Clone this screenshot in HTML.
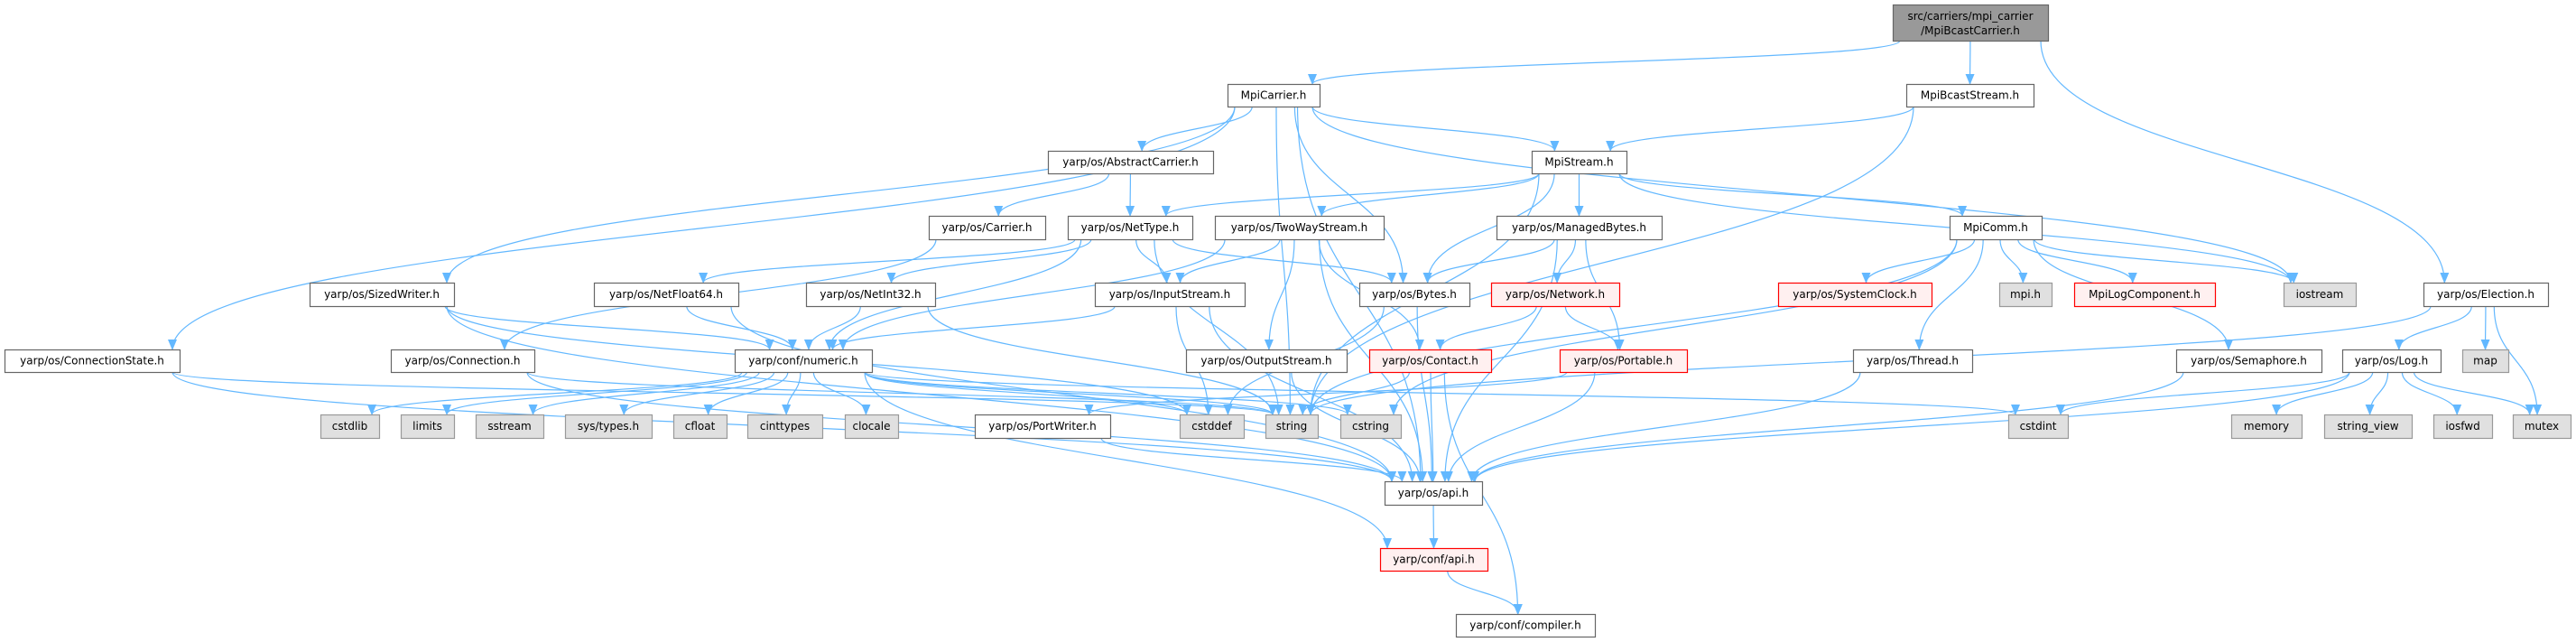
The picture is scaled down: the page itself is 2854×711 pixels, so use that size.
<!DOCTYPE html>
<html><head><meta charset="utf-8">
<style>
html,body{margin:0;padding:0;background:#fff;}
svg{display:block;}
text{font-family:"DejaVu Sans","Liberation Sans",sans-serif;font-size:12px;fill:#000;}
</style></head>
<body>
<svg id="g" width="2854" height="711" viewBox="0 0 2854 711" xmlns="http://www.w3.org/2000/svg">
<defs>
<marker id="a" markerWidth="12" markerHeight="10" refX="11" refY="5" orient="auto" markerUnits="userSpaceOnUse">
<path d="M0,0 L12,5 L0,10 Z" fill="#63b8ff"/>
</marker>
</defs>
<g id="edges"></g>
<g id="nodes"></g>
</svg>
<script>
var R=[[5,45],[93,118],[167,192],[239,265],[313,339],[387,412],[459,485],[533,559],[607,632],[680,705]];
var N={
root:[["src/carriers/mpi_carrier","/MpiBcastCarrier.h"],2097,2269,0,"root"],
MpiCarrier:["MpiCarrier.h",1360,1462,1],
MpiBcastStream:["MpiBcastStream.h",2112,2253,1],
AbstractCarrier:["yarp/os/AbstractCarrier.h",1161,1344,2],
MpiStream:["MpiStream.h",1697,1802,2],
Carrier:["yarp/os/Carrier.h",1029,1158,3],
NetType:["yarp/os/NetType.h",1183,1321,3],
TwoWayStream:["yarp/os/TwoWayStream.h",1346,1533,3],
ManagedBytes:["yarp/os/ManagedBytes.h",1658,1841,3],
MpiComm:["MpiComm.h",2160,2262,3],
SizedWriter:["yarp/os/SizedWriter.h",343,503,4],
NetFloat64:["yarp/os/NetFloat64.h",658,818,4],
NetInt32:["yarp/os/NetInt32.h",893,1036,4],
InputStream:["yarp/os/InputStream.h",1213,1379,4],
Bytes:["yarp/os/Bytes.h",1506,1628,4],
Network:["yarp/os/Network.h",1652,1794,4,"red"],
SystemClock:["yarp/os/SystemClock.h",1970,2140,4,"red"],
mpih:["mpi.h",2215,2273,4,"ext"],
MpiLogComponent:["MpiLogComponent.h",2298,2454,4,"red"],
iostream:["iostream",2530,2610,4,"ext"],
Election:["yarp/os/Election.h",2685,2823,4],
ConnectionState:["yarp/os/ConnectionState.h",5,199,5],
Connection:["yarp/os/Connection.h",433,592,5],
numeric:["yarp/conf/numeric.h",814,966,5],
OutputStream:["yarp/os/OutputStream.h",1314,1492,5],
Contact:["yarp/os/Contact.h",1517,1652,5,"red"],
Portable:["yarp/os/Portable.h",1728,1869,5,"red"],
Thread:["yarp/os/Thread.h",2053,2185,5],
Semaphore:["yarp/os/Semaphore.h",2411,2572,5],
Log:["yarp/os/Log.h",2595,2704,5],
map:["map",2728,2779,5,"ext"],
cstdlib:["cstdlib",355,420,6,"ext"],
limits:["limits",444,503,6,"ext"],
sstream:["sstream",527,602,6,"ext"],
systypes:["sys/types.h",626,722,6,"ext"],
cfloat:["cfloat",746,805,6,"ext"],
cinttypes:["cinttypes",828,911,6,"ext"],
clocale:["clocale",936,995,6,"ext"],
PortWriter:["yarp/os/PortWriter.h",1080,1230,6],
cstddef:["cstddef",1307,1378,6,"ext"],
string:["string",1402,1460,6,"ext"],
cstring:["cstring",1485,1552,6,"ext"],
cstdint:["cstdint",2225,2291,6,"ext"],
memory:["memory",2472,2550,6,"ext"],
string_view:["string_view",2575,2672,6,"ext"],
iosfwd:["iosfwd",2696,2761,6,"ext"],
mutex:["mutex",2784,2848,6,"ext"],
osapi:["yarp/os/api.h",1534,1642,7],
confapi:["yarp/conf/api.h",1529,1648,8,"red"],
compiler:["yarp/conf/compiler.h",1613,1767,9]
};
var E={
root:"MpiCarrier MpiBcastStream Election",
MpiBcastStream:"MpiStream string",
MpiCarrier:"AbstractCarrier MpiStream Bytes SizedWriter ConnectionState string iostream osapi",
AbstractCarrier:"Carrier NetType",
Carrier:"Connection",
MpiStream:"NetType TwoWayStream Bytes ManagedBytes MpiComm iostream string",
NetType:"NetFloat64 NetInt32 numeric InputStream Bytes string",
TwoWayStream:"InputStream OutputStream Contact numeric osapi",
ManagedBytes:"Bytes Network Portable osapi",
Network:"Contact Portable",
MpiComm:"SystemClock mpih MpiLogComponent iostream Thread Semaphore string cstring",
Election:"Log map mutex string",
Log:"cstdint memory string_view iosfwd mutex osapi",
Semaphore:"osapi",Thread:"osapi",
SizedWriter:"numeric osapi cstddef",
NetFloat64:"numeric osapi",
NetInt32:"numeric string",
InputStream:"numeric osapi cstddef",
Bytes:"osapi cstddef",
Contact:"string compiler osapi",
Portable:"PortWriter osapi",
numeric:"cstdlib limits sstream systypes cfloat cinttypes clocale cstddef string cstring cstdint confapi",
ConnectionState:"osapi string",
Connection:"osapi string",
PortWriter:"osapi",
OutputStream:"osapi",
osapi:"confapi",
confapi:"compiler"
};
var NS="http://www.w3.org/2000/svg";
function el(t,a,p){var e=document.createElementNS(NS,t);for(var k in a)e.setAttribute(k,a[k]);p.appendChild(e);return e;}
var eg=document.getElementById("edges"),ng=document.getElementById("nodes");
function clamp(v,a,b){return Math.max(a,Math.min(b,v));}
for(var s in E){E[s].split(" ").forEach(function(t){
 var a=N[s],b=N[t];
 var acx=(a[1]+a[2])/2,bcx=(b[1]+b[2])/2;
 var ay=R[a[3]][1],by=R[b[3]][0];
 var sx=clamp(acx+(bcx-acx)*0.15,a[1]+8,a[2]-8);
 var tx=clamp(bcx+(acx-bcx)*0.08,b[1]+8,b[2]-8);
 var dy=by-ay;
 el("path",{d:"M"+sx+","+ay+" C"+sx+","+(ay+dy*0.5)+" "+tx+","+(by-dy*0.5)+" "+tx+","+by,
  fill:"none",stroke:"#63b8ff","stroke-width":"1.2","marker-end":"url(#a)"},eg);
});}
for(var k in N){var n=N[k],y1=R[n[3]][0],y2=R[n[3]][1];
 var fill="#fff",st="#666";
 if(n[4]=="ext"){fill="#e0e0e0";st="#999";}
 if(n[4]=="red"){fill="#fff0f0";st="#ff0000";}
 if(n[4]=="root"){fill="#999";st="#666";}
 el("rect",{x:n[1]+.5,y:y1+.5,width:n[2]-n[1],height:y2-y1,fill:fill,stroke:st,"stroke-width":"1.2"},ng);
 var cx=(n[1]+n[2])/2;
 if(Array.isArray(n[0])){
  var t1=el("text",{x:cx,y:y1+17,"text-anchor":"middle"},ng);t1.textContent=n[0][0];
  var t2=el("text",{x:cx,y:y1+33,"text-anchor":"middle"},ng);t2.textContent=n[0][1];
 } else {
  var t=el("text",{x:cx,y:(y1+y2)/2+4,"text-anchor":"middle"},ng);t.textContent=n[0];
 }
}
</script>
</body></html>
